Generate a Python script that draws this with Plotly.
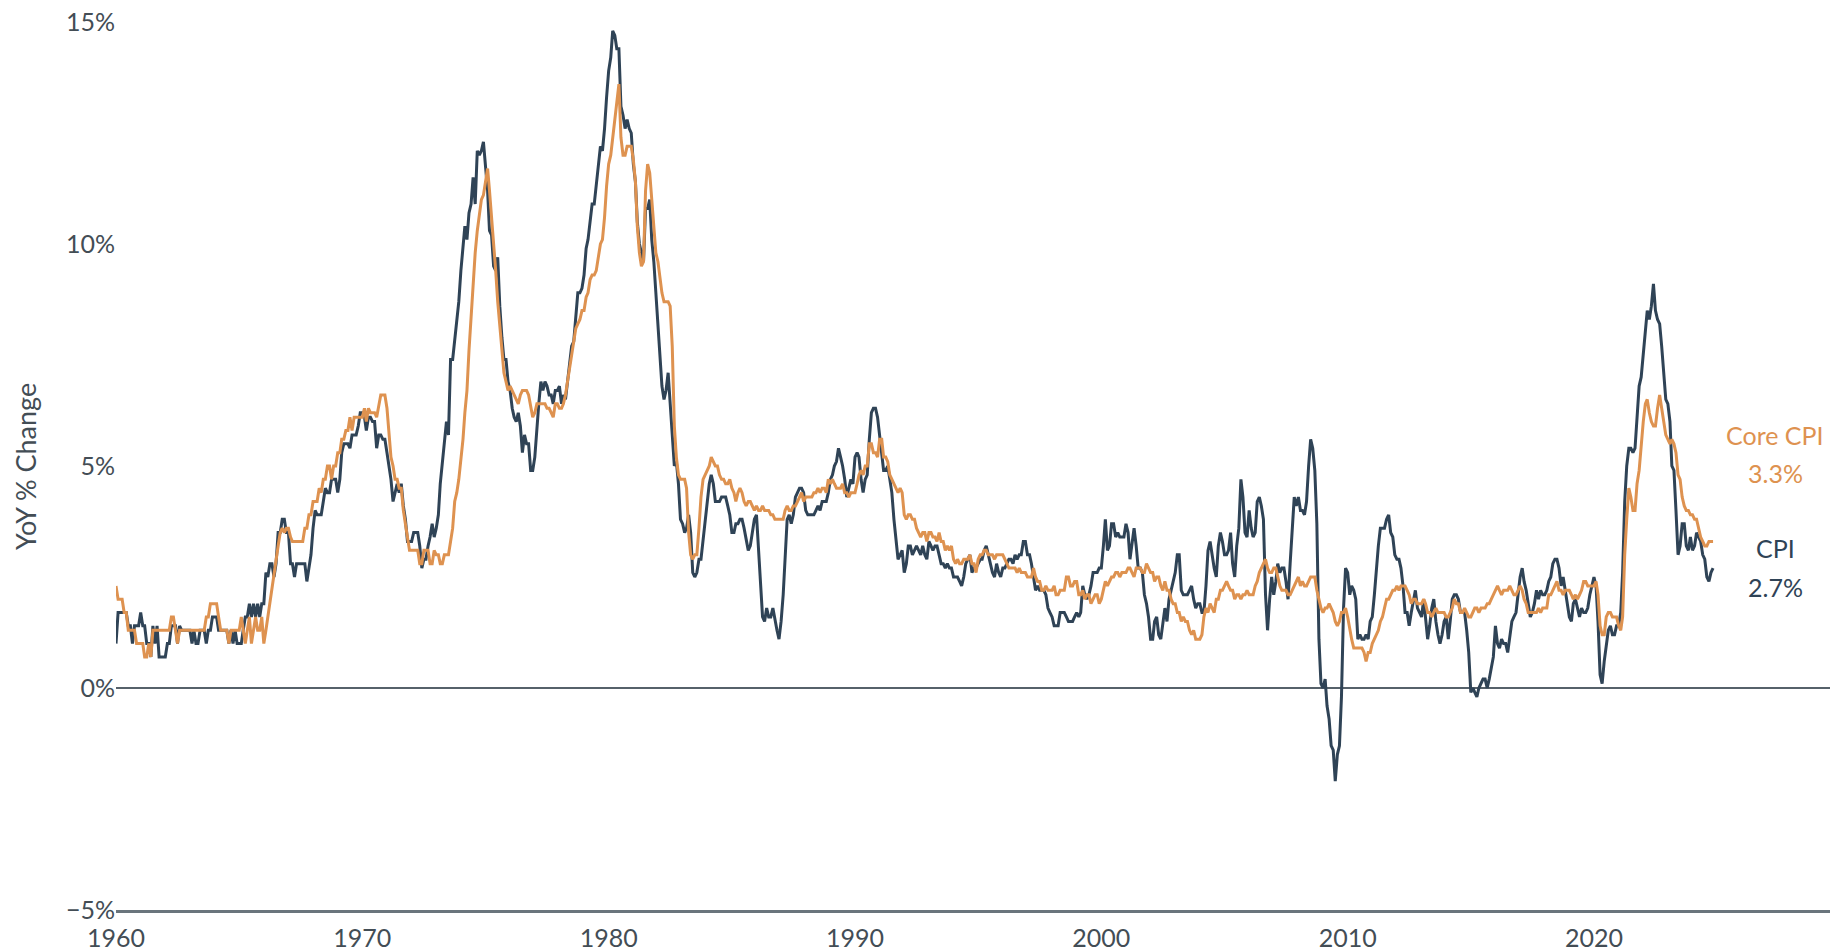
import pandas as pd
import plotly.graph_objects as go

# CPI, year-over-year % change, monthly (Jan 1960 - Nov 2024)
cpi_1960s = [
    1.0, 1.7, 1.7, 1.7, 1.7, 1.7, 1.4, 1.4, 1.0, 1.4, 1.4, 1.4,
    1.7, 1.4, 1.4, 1.0, 1.0, 0.7, 1.4, 1.0, 1.4, 0.7, 0.7, 0.7,
    0.7, 1.0, 1.0, 1.4, 1.4, 1.4, 1.0, 1.4, 1.3, 1.3, 1.3, 1.3,
    1.3, 1.0, 1.3, 1.0, 1.0, 1.3, 1.3, 1.3, 1.0, 1.3, 1.3, 1.6,
    1.6, 1.6, 1.3, 1.3, 1.3, 1.3, 1.3, 1.0, 1.3, 1.0, 1.3, 1.0,
    1.0, 1.0, 1.3, 1.6, 1.6, 1.9, 1.6, 1.9, 1.6, 1.9, 1.6, 1.9,
    1.9, 2.6, 2.5, 2.8, 2.8, 2.5, 2.8, 3.5, 3.5, 3.8, 3.8, 3.5,
    3.5, 2.8, 2.8, 2.5, 2.8, 2.8, 2.8, 2.8, 2.8, 2.4, 2.7, 3.0,
    3.6, 4.0, 3.9, 3.9, 3.9, 4.2, 4.5, 4.4, 4.4, 4.7, 4.7, 4.7,
    4.4, 4.7, 5.3, 5.5, 5.5, 5.5, 5.4, 5.7, 5.7, 5.7, 5.9, 6.2,
]
cpi_1970s = [
    6.2, 6.1, 5.8, 6.1, 6.1, 6.0, 6.0, 5.4, 5.7, 5.7, 5.6, 5.6,
    5.3, 5.0, 4.7, 4.2, 4.4, 4.6, 4.4, 4.6, 4.1, 3.8, 3.3, 3.3,
    3.3, 3.5, 3.5, 3.5, 3.2, 2.7, 2.9, 2.9, 3.2, 3.4, 3.7, 3.4,
    3.6, 3.9, 4.6, 5.1, 5.5, 6.0, 5.7, 7.4, 7.4, 7.8, 8.3, 8.7,
    9.4, 10.0, 10.4, 10.1, 10.7, 10.9, 11.5, 10.9, 12.1, 12.0, 12.1, 12.3,
    11.8, 11.2, 10.3, 10.2, 9.5, 9.4, 9.7, 8.6, 7.9, 7.4, 7.4, 6.9,
    6.7, 6.3, 6.1, 6.0, 6.2, 5.9, 5.3, 5.7, 5.5, 5.5, 4.9, 4.9,
    5.2, 5.9, 6.4, 6.9, 6.7, 6.9, 6.8, 6.6, 6.6, 6.4, 6.7, 6.7,
    6.8, 6.4, 6.6, 6.5, 6.9, 7.4, 7.7, 7.8, 8.3, 8.9, 8.9, 9.0,
    9.3, 9.9, 10.1, 10.5, 10.9, 10.9, 11.3, 11.8, 12.2, 12.1, 12.6, 13.3,
]
cpi_1980s = [
    13.9, 14.2, 14.8, 14.7, 14.4, 14.4, 13.1, 12.9, 12.6, 12.8, 12.6, 12.5,
    11.8, 11.4, 10.5, 10.0, 9.8, 9.6, 10.8, 10.8, 11.0, 10.1, 9.6, 8.9,
    8.4, 7.6, 6.8, 6.5, 6.7, 7.1, 6.4, 5.9, 5.0, 5.1, 4.6, 3.8,
    3.7, 3.5, 3.6, 3.9, 3.5, 2.6, 2.5, 2.6, 2.9, 2.9, 3.3, 3.8,
    4.2, 4.6, 4.8, 4.6, 4.2, 4.2, 4.2, 4.3, 4.3, 4.3, 4.1, 3.9,
    3.5, 3.5, 3.7, 3.7, 3.8, 3.8, 3.6, 3.3, 3.1, 3.2, 3.5, 3.8,
    3.9, 3.1, 2.3, 1.6, 1.5, 1.8, 1.6, 1.6, 1.8, 1.5, 1.3, 1.1,
    1.5, 2.1, 3.0, 3.8, 3.9, 3.7, 3.9, 4.3, 4.4, 4.5, 4.5, 4.4,
    4.0, 3.9, 3.9, 3.9, 3.9, 4.0, 4.1, 4.0, 4.2, 4.2, 4.2, 4.4,
    4.7, 4.8, 5.0, 5.1, 5.4, 5.2, 5.0, 4.7, 4.3, 4.5, 4.7, 4.6,
]
cpi_1990s = [
    5.2, 5.3, 5.2, 4.7, 4.4, 4.7, 4.8, 5.6, 6.2, 6.3, 6.3, 6.1,
    5.7, 5.3, 4.9, 4.9, 5.0, 4.7, 4.4, 3.8, 3.4, 2.9, 3.0, 3.1,
    2.6, 2.8, 3.2, 3.2, 3.0, 3.1, 3.2, 3.1, 3.0, 3.2, 3.0, 2.9,
    3.3, 3.2, 3.1, 3.2, 3.2, 3.0, 2.8, 2.8, 2.7, 2.8, 2.7, 2.7,
    2.5, 2.5, 2.5, 2.4, 2.3, 2.5, 2.8, 2.9, 3.0, 2.6, 2.7, 2.7,
    2.8, 2.9, 2.9, 3.1, 3.2, 3.0, 2.8, 2.6, 2.5, 2.8, 2.6, 2.5,
    2.7, 2.7, 2.8, 2.9, 2.9, 2.8, 3.0, 2.9, 3.0, 3.0, 3.3, 3.3,
    3.0, 3.0, 2.8, 2.5, 2.2, 2.3, 2.2, 2.2, 2.2, 2.1, 1.8, 1.7,
    1.6, 1.4, 1.4, 1.4, 1.7, 1.7, 1.7, 1.6, 1.5, 1.5, 1.5, 1.6,
    1.7, 1.6, 1.7, 2.3, 2.1, 2.0, 2.1, 2.3, 2.6, 2.6, 2.6, 2.7,
]
cpi_2000s = [
    2.7, 3.2, 3.8, 3.1, 3.2, 3.7, 3.7, 3.4, 3.5, 3.4, 3.4, 3.4,
    3.7, 3.5, 2.9, 3.3, 3.6, 3.2, 2.7, 2.7, 2.6, 2.1, 1.9, 1.6,
    1.1, 1.1, 1.5, 1.6, 1.2, 1.1, 1.5, 1.8, 1.5, 2.0, 2.2, 2.4,
    2.6, 3.0, 3.0, 2.2, 2.1, 2.1, 2.1, 2.2, 2.3, 2.0, 1.8, 1.9,
    1.9, 1.7, 1.7, 2.3, 3.1, 3.3, 3.0, 2.7, 2.5, 3.2, 3.5, 3.3,
    3.0, 3.0, 3.1, 3.5, 2.8, 2.5, 3.2, 3.6, 4.7, 4.3, 3.5, 3.4,
    4.0, 3.6, 3.4, 3.5, 4.2, 4.3, 4.1, 3.8, 2.1, 1.3, 2.0, 2.5,
    2.1, 2.4, 2.8, 2.6, 2.7, 2.7, 2.4, 2.0, 2.8, 3.5, 4.3, 4.1,
    4.3, 4.0, 4.0, 3.9, 4.2, 5.0, 5.6, 5.4, 4.9, 3.7, 1.1, 0.1,
    0.0, 0.2, -0.4, -0.7, -1.3, -1.4, -2.1, -1.5, -1.3, -0.2, 1.8, 2.7,
]
cpi_2010s = [
    2.6, 2.1, 2.3, 2.2, 2.0, 1.1, 1.2, 1.1, 1.1, 1.2, 1.1, 1.5,
    1.6, 2.1, 2.7, 3.2, 3.6, 3.6, 3.6, 3.8, 3.9, 3.5, 3.4, 3.0,
    2.9, 2.9, 2.7, 2.3, 1.7, 1.7, 1.4, 1.7, 2.0, 2.2, 1.8, 1.7,
    1.6, 2.0, 1.5, 1.1, 1.4, 1.8, 2.0, 1.5, 1.2, 1.0, 1.2, 1.5,
    1.6, 1.1, 1.5, 2.0, 2.1, 2.1, 2.0, 1.7, 1.7, 1.7, 1.3, 0.8,
    -0.1, 0.0, -0.1, -0.2, 0.0, 0.1, 0.2, 0.2, 0.0, 0.2, 0.5, 0.7,
    1.4, 1.0, 0.9, 1.1, 1.0, 1.0, 0.8, 1.1, 1.5, 1.6, 1.7, 2.1,
    2.5, 2.7, 2.4, 2.2, 1.9, 1.6, 1.7, 1.9, 2.2, 2.0, 2.2, 2.1,
    2.1, 2.2, 2.4, 2.5, 2.8, 2.9, 2.9, 2.7, 2.3, 2.5, 2.2, 1.9,
    1.6, 1.5, 1.9, 2.0, 1.8, 1.6, 1.8, 1.7, 1.7, 1.8, 2.1, 2.3,
]
cpi_2020s = [
    2.5, 2.3, 1.5, 0.3, 0.1, 0.6, 1.0, 1.3, 1.4, 1.2, 1.2, 1.4,
    1.4, 1.7, 2.6, 4.2, 5.0, 5.4, 5.4, 5.3, 5.4, 6.2, 6.8, 7.0,
    7.5, 7.9, 8.5, 8.3, 8.6, 9.1, 8.5, 8.3, 8.2, 7.7, 7.1, 6.5,
    6.4, 6.0, 5.0, 4.9, 4.0, 3.0, 3.2, 3.7, 3.7, 3.2, 3.1, 3.4,
    3.1, 3.2, 3.5, 3.4, 3.3, 3.0, 2.9, 2.5, 2.4, 2.6, 2.7,
]

# Core CPI (ex food & energy), year-over-year % change, monthly
core_1960s = [
    2.3, 2.0, 2.0, 2.0, 1.7, 1.7, 1.3, 1.3, 1.3, 1.3, 1.0, 1.0,
    1.0, 1.0, 0.7, 0.7, 1.0, 0.7, 1.3, 1.3, 1.3, 1.3, 1.3, 1.3,
    1.3, 1.3, 1.3, 1.6, 1.6, 1.3, 1.0, 1.3, 1.3, 1.3, 1.3, 1.3,
    1.3, 1.3, 1.3, 1.3, 1.3, 1.3, 1.3, 1.3, 1.6, 1.6, 1.9, 1.9,
    1.9, 1.9, 1.6, 1.3, 1.3, 1.3, 1.3, 1.0, 1.3, 1.3, 1.3, 1.3,
    1.3, 1.6, 1.3, 1.0, 1.3, 1.6, 1.0, 1.3, 1.6, 1.3, 1.3, 1.6,
    1.0, 1.3, 1.6, 2.0, 2.3, 2.6, 2.9, 3.2, 3.5, 3.6, 3.5, 3.6,
    3.6, 3.4, 3.3, 3.3, 3.3, 3.3, 3.3, 3.3, 3.6, 3.6, 3.9, 3.9,
    4.2, 4.2, 4.2, 4.5, 4.4, 4.7, 4.7, 5.0, 5.0, 4.7, 5.0, 5.0,
    5.3, 5.3, 5.6, 5.6, 5.8, 5.8, 6.1, 5.8, 6.1, 6.1, 6.1, 6.1,
]
core_1970s = [
    6.1, 6.3, 6.0, 6.3, 6.2, 6.2, 6.2, 6.1, 6.4, 6.6, 6.6, 6.6,
    6.3, 5.8, 5.2, 5.0, 4.7, 4.7, 4.5, 4.5, 4.0, 3.7, 3.4, 3.1,
    3.1, 3.1, 3.1, 3.1, 2.8, 2.8, 3.1, 3.1, 3.1, 2.8, 2.8, 3.1,
    3.0, 3.0, 2.8, 2.8, 3.0, 3.0, 3.0, 3.3, 3.6, 4.2, 4.4, 4.7,
    5.1, 5.6, 6.2, 6.7, 7.6, 8.4, 9.0, 9.8, 10.3, 10.6, 11.0, 11.1,
    11.4, 11.7, 11.2, 10.6, 10.1, 9.4, 8.7, 8.1, 7.6, 7.1, 6.9, 6.7,
    6.8, 6.7, 6.6, 6.5, 6.4, 6.6, 6.7, 6.7, 6.7, 6.6, 6.3, 6.1,
    6.2, 6.4, 6.4, 6.4, 6.4, 6.4, 6.3, 6.3, 6.2, 6.1, 6.4, 6.4,
    6.3, 6.3, 6.4, 6.6, 6.9, 7.2, 7.4, 7.7, 8.1, 8.2, 8.3, 8.5,
    8.5, 8.8, 8.9, 9.2, 9.3, 9.3, 9.4, 9.7, 10.0, 10.1, 10.6, 11.3,
]
core_1980s = [
    11.8, 12.0, 12.4, 12.7, 13.1, 13.6, 12.4, 12.0, 12.0, 12.2, 12.2, 12.2,
    11.9, 11.4, 10.4, 9.8, 9.5, 9.6, 11.2, 11.8, 11.6, 11.0, 10.4, 9.8,
    9.6, 9.2, 8.9, 8.7, 8.7, 8.7, 8.6, 7.7, 5.9, 5.2, 4.8, 4.7,
    4.7, 4.7, 4.5, 3.5, 3.0, 2.9, 3.0, 3.0, 3.6, 4.3, 4.7, 4.8,
    4.9, 5.0, 5.2, 5.1, 5.0, 5.0, 4.8, 4.7, 4.7, 4.6, 4.6, 4.7,
    4.5, 4.4, 4.2, 4.4, 4.5, 4.4, 4.2, 4.1, 4.2, 4.2, 4.1, 4.0,
    4.1, 4.0, 4.0, 4.1, 4.0, 4.0, 4.0, 3.9, 3.9, 3.8, 3.8, 3.8,
    3.8, 3.8, 4.0, 4.1, 4.0, 4.0, 4.1, 4.1, 4.2, 4.3, 4.4, 4.2,
    4.3, 4.3, 4.3, 4.3, 4.4, 4.4, 4.5, 4.4, 4.5, 4.5, 4.4, 4.7,
    4.6, 4.7, 4.6, 4.5, 4.5, 4.5, 4.6, 4.4, 4.4, 4.3, 4.4, 4.4,
]
core_1990s = [
    4.4, 4.6, 4.8, 4.9, 4.8, 5.0, 5.0, 5.5, 5.5, 5.3, 5.3, 5.2,
    5.6, 5.6, 5.2, 5.2, 5.1, 4.8, 4.7, 4.6, 4.5, 4.4, 4.5, 4.4,
    3.9, 3.8, 3.9, 3.9, 3.8, 3.8, 3.6, 3.5, 3.4, 3.5, 3.5, 3.3,
    3.5, 3.5, 3.4, 3.4, 3.3, 3.5, 3.3, 3.3, 3.1, 3.2, 3.1, 3.2,
    2.9, 2.8, 2.9, 2.8, 2.8, 2.9, 2.9, 2.9, 3.0, 2.8, 2.8, 2.6,
    2.9, 3.0, 3.0, 3.1, 3.1, 3.0, 3.0, 3.0, 2.9, 3.0, 3.0, 3.0,
    3.0, 2.9, 2.8, 2.7, 2.7, 2.7, 2.7, 2.6, 2.7, 2.6, 2.6, 2.6,
    2.5, 2.5, 2.5, 2.7, 2.5, 2.4, 2.4, 2.2, 2.2, 2.3, 2.2, 2.2,
    2.2, 2.3, 2.1, 2.1, 2.2, 2.2, 2.2, 2.5, 2.5, 2.3, 2.3, 2.4,
    2.4, 2.1, 2.1, 2.2, 2.0, 2.1, 2.1, 1.9, 2.0, 2.1, 2.1, 1.9,
]
core_2000s = [
    2.0, 2.2, 2.4, 2.3, 2.4, 2.5, 2.5, 2.6, 2.6, 2.5, 2.6, 2.6,
    2.6, 2.7, 2.7, 2.6, 2.5, 2.7, 2.7, 2.7, 2.6, 2.6, 2.8, 2.7,
    2.6, 2.6, 2.4, 2.5, 2.5, 2.3, 2.2, 2.4, 2.2, 2.2, 2.0, 1.9,
    1.9, 1.7, 1.7, 1.5, 1.6, 1.5, 1.5, 1.3, 1.2, 1.3, 1.1, 1.1,
    1.1, 1.2, 1.6, 1.8, 1.7, 1.9, 1.8, 1.7, 2.0, 2.0, 2.2, 2.2,
    2.3, 2.4, 2.3, 2.2, 2.2, 2.0, 2.1, 2.1, 2.0, 2.1, 2.1, 2.2,
    2.1, 2.1, 2.1, 2.3, 2.4, 2.6, 2.7, 2.8, 2.9, 2.7, 2.6, 2.6,
    2.7, 2.7, 2.5, 2.3, 2.2, 2.2, 2.2, 2.1, 2.1, 2.2, 2.3, 2.4,
    2.5, 2.3, 2.4, 2.3, 2.3, 2.4, 2.5, 2.5, 2.5, 2.2, 2.0, 1.8,
    1.7, 1.8, 1.8, 1.9, 1.8, 1.7, 1.5, 1.4, 1.5, 1.7, 1.7, 1.8,
]
core_2010s = [
    1.6, 1.3, 1.1, 0.9, 0.9, 0.9, 0.9, 0.9, 0.8, 0.6, 0.8, 0.8,
    1.0, 1.1, 1.2, 1.3, 1.5, 1.6, 1.8, 2.0, 2.0, 2.1, 2.2, 2.2,
    2.3, 2.2, 2.3, 2.3, 2.3, 2.2, 2.1, 1.9, 2.0, 2.0, 1.9, 1.9,
    1.9, 2.0, 1.9, 1.7, 1.7, 1.6, 1.7, 1.8, 1.7, 1.7, 1.7, 1.7,
    1.6, 1.6, 1.7, 1.8, 2.0, 1.9, 1.9, 1.7, 1.7, 1.8, 1.7, 1.6,
    1.6, 1.7, 1.8, 1.8, 1.7, 1.8, 1.8, 1.8, 1.9, 1.9, 2.0, 2.1,
    2.2, 2.3, 2.2, 2.1, 2.2, 2.2, 2.2, 2.3, 2.2, 2.1, 2.1, 2.2,
    2.3, 2.2, 2.0, 1.9, 1.7, 1.7, 1.7, 1.7, 1.7, 1.8, 1.7, 1.8,
    1.8, 1.8, 2.1, 2.1, 2.2, 2.3, 2.4, 2.2, 2.2, 2.1, 2.2, 2.2,
    2.2, 2.1, 2.0, 2.1, 2.0, 2.1, 2.2, 2.4, 2.4, 2.3, 2.3, 2.3,
]
core_2020s = [
    2.3, 2.4, 2.1, 1.4, 1.2, 1.2, 1.6, 1.7, 1.7, 1.6, 1.6, 1.6,
    1.4, 1.3, 1.6, 3.0, 3.8, 4.5, 4.3, 4.0, 4.0, 4.6, 4.9, 5.5,
    6.0, 6.4, 6.5, 6.2, 6.0, 5.9, 5.9, 6.3, 6.6, 6.3, 6.0, 5.7,
    5.6, 5.5, 5.6, 5.5, 5.3, 4.8, 4.7, 4.3, 4.1, 4.0, 4.0, 3.9,
    3.9, 3.8, 3.8, 3.6, 3.4, 3.3, 3.2, 3.2, 3.3, 3.3, 3.3,
]

start_month = "1960-01-01"
x_range = ["1960-01-01", "2029-08-01"]
y_ticks = [-5, 0, 5, 10, 15]
x_ticks = ["1960", "1970", "1980", "1990", "2000", "2010", "2020"]

cpi = cpi_1960s + cpi_1970s + cpi_1980s + cpi_1990s + cpi_2000s + cpi_2010s + cpi_2020s
core = core_1960s + core_1970s + core_1980s + core_1990s + core_2000s + core_2010s + core_2020s
dates = pd.date_range(start_month, periods=len(cpi), freq="MS")

NAVY = "#2f4356"
ORANGE = "#de9250"
TEXT = "#434d55"
FONT = "Lato, 'Noto Sans', sans-serif"


def pct_label(v):
    return ("\u2212" if v < 0 else "") + f"{abs(v)}%"


fig = go.Figure()
fig.add_trace(go.Scatter(x=dates, y=cpi, mode="lines", name="CPI",
                         line=dict(color=NAVY, width=3)))
fig.add_trace(go.Scatter(x=dates, y=core, mode="lines", name="Core CPI",
                         line=dict(color=ORANGE, width=3)))

fig.update_layout(
    width=1843, height=951,
    margin=dict(l=116, r=13, t=22, b=41, autoexpand=False),
    paper_bgcolor="white", plot_bgcolor="white",
    showlegend=False,
    font=dict(family=FONT, size=25, color=TEXT),
    xaxis=dict(
        type="date", range=x_range, automargin=False,
        tickmode="array",
        tickvals=[f"{t}-01-01" for t in x_ticks], ticktext=x_ticks,
        showgrid=False, zeroline=False,
        showline=True, linecolor="#6a757c", linewidth=2.5,
        ticks="outside", ticklen=4, tickcolor="rgba(0,0,0,0)",
        tickfont=dict(size=25, color=TEXT),
    ),
    yaxis=dict(
        range=[-5, 15], automargin=False,
        tickmode="array", tickvals=y_ticks,
        ticktext=[pct_label(v) for v in y_ticks],
        showgrid=False, zeroline=True, zerolinecolor="#56616a", zerolinewidth=2,
        showline=False, ticks="",
        tickfont=dict(size=25, color=TEXT),
    ),
)

fig.add_annotation(text="YoY % Change", xref="paper", yref="paper",
                   x=-0.0531, y=0.5, textangle=-90, showarrow=False,
                   font=dict(size=27, color=TEXT), xanchor="center", yanchor="middle")

for txt, yv, col in [("Core CPI", 5.70, ORANGE), (f"{core[-1]:.1f}%", 4.84, ORANGE),
                     ("CPI", 3.15, NAVY), (f"{cpi[-1]:.1f}%", 2.27, NAVY)]:
    fig.add_annotation(text=txt, xref="paper", yref="y", x=0.968, y=yv,
                       xanchor="center", yanchor="middle",
                       showarrow=False, font=dict(size=25, color=col))

fig.write_html("out.html", config={"displayModeBar": False},
               post_script="document.body.style.margin='0';")
